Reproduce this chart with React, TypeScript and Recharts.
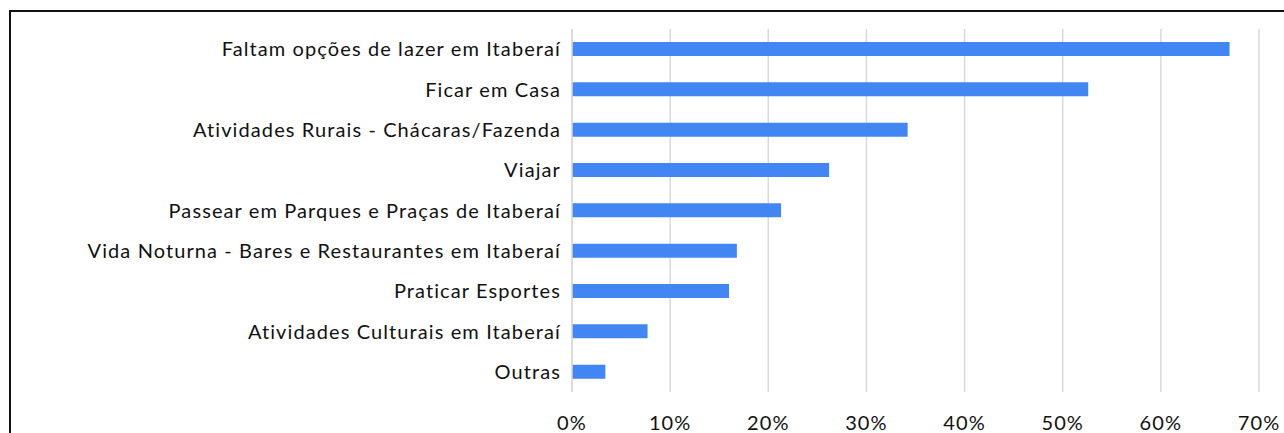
import * as React from 'react';
import { BarChart, Bar, XAxis, YAxis, CartesianGrid } from 'recharts';

const categories = [
  'Faltam opções de lazer em Itaberaí',
  'Ficar em Casa',
  'Atividades Rurais - Chácaras/Fazenda',
  'Viajar',
  'Passear em Parques e Praças de Itaberaí',
  'Vida Noturna - Bares e Restaurantes em Itaberaí',
  'Praticar Esportes',
  'Atividades Culturais em Itaberaí',
  'Outras',
];

const shares = [0.67, 0.526, 0.342, 0.262, 0.213, 0.168, 0.16, 0.077, 0.034];

const xTicks = [0, 0.1, 0.2, 0.3, 0.4, 0.5, 0.6, 0.7];

const chartData = categories.map((name, i) => ({ name, value: shares[i] }));

const FONT = 'Lato, "Open Sans", sans-serif';
const tickStyle = { fill: '#111', fontSize: 20, fontFamily: FONT, letterSpacing: 1.1 };

export default function App() {
  return (
    <div
      style={{
        position: 'absolute',
        left: 0,
        top: 0,
        width: 1284,
        height: 433,
        overflow: 'hidden',
        background: '#fff',
      }}
    >
      {/* frame, cut off on the right and bottom like the source */}
      <div
        style={{
          position: 'absolute',
          left: 9,
          top: 10,
          width: 1300,
          height: 450,
          borderTop: '2px solid #111',
          borderLeft: '2px solid #111',
        }}
      />
      <div style={{ position: 'absolute', left: 0, top: 0 }}>
        <BarChart
          layout="vertical"
          width={1284}
          height={433}
          data={chartData}
          margin={{ top: 29, right: 25, bottom: 11, left: 0 }}
          barCategoryGap={0}
        >
          <CartesianGrid horizontal={false} stroke="#d9d9d9" strokeWidth={1.5} />
          <XAxis
            type="number"
            domain={[0, 0.7]}
            ticks={xTicks}
            tickFormatter={(v: number) => `${Math.round(v * 100)}%`}
            axisLine={false}
            tickLine={false}
            tickSize={0}
            tickMargin={24}
            tick={tickStyle}
            interval={0}
          />
          <YAxis
            type="category"
            dataKey="name"
            width={572}
            axisLine={{ stroke: '#d9d9d9', strokeWidth: 1.5 }}
            tickLine={false}
            tickSize={0}
            tickMargin={11}
            tick={tickStyle}
            interval={0}
          />
          <Bar dataKey="value" fill="#4286f4" barSize={14} isAnimationActive={false} />
        </BarChart>
      </div>
    </div>
  );
}
